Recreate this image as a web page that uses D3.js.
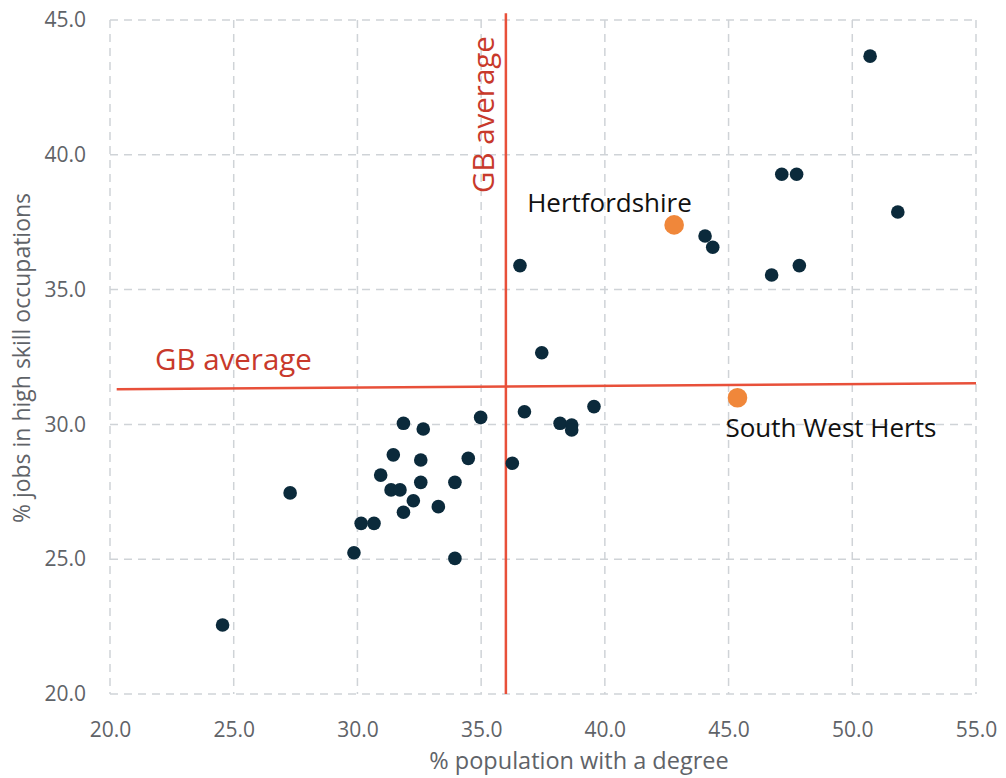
<!DOCTYPE html>
<html>
<head>
<meta charset="utf-8">
<script src="https://cdn.jsdelivr.net/npm/d3@7"></script>
<style>
  html, body { margin: 0; padding: 0; background: #ffffff; }
  svg { display: block; font-family: "Open Sans", "Noto Sans", sans-serif; }
</style>
</head>
<body>
<svg id="chart" width="1006" height="778"></svg>
<script>
// ---- data ----
const xTicks = [20, 25, 30, 35, 40, 45, 50, 55];
const yTicks = [20, 25, 30, 35, 40, 45];
const degreePct = [24.55, 27.28, 29.86, 30.15, 30.67, 30.94, 31.36, 31.72, 31.45, 31.86, 31.86,
  32.26, 32.56, 32.56, 32.66, 33.27, 33.94, 33.94, 34.48, 34.98, 36.26, 36.57, 36.75, 37.45,
  38.19, 38.66, 38.66, 39.56, 44.05, 44.36, 46.74, 47.15, 47.75, 47.86, 50.72, 51.84];
const highSkillPct = [22.56, 27.46, 25.24, 26.33, 26.33, 28.12, 27.57, 27.57, 28.87, 30.04, 26.74,
  27.17, 28.68, 27.85, 29.83, 26.95, 27.85, 25.03, 28.74, 30.26, 28.56, 35.89, 30.47, 32.66,
  30.04, 29.98, 29.79, 30.66, 36.99, 36.57, 35.54, 39.28, 39.28, 35.89, 43.66, 37.88];
const highlightNames = ["Hertfordshire", "South West Herts"];
const highlightDegree = [42.80, 45.36];
const highlightSkill = [37.40, 30.99];
const gbDegreeAvg = 36.0;
const gbLineY = [31.30, 31.53];   // drawn reference line is slightly tilted
const gbLineX = [20.27, 55];

// ---- layout ----
const svg = d3.select("#chart");
const x = d3.scaleLinear().domain([20, 55]).range([110, 976]);
const y = d3.scaleLinear().domain([20, 45]).range([694, 20]);

const gridColor = "#cfd3d7";
const tickColor = "#5f6368";

// grid
const grid = svg.append("g");
grid.selectAll("line.v").data(xTicks).enter().append("line")
  .attr("x1", d => x(d)).attr("x2", d => x(d))
  .attr("y1", y(45)).attr("y2", y(20))
  .attr("stroke", gridColor).attr("stroke-width", 1.5).attr("stroke-dasharray", "8,6");
grid.selectAll("line.h").data(yTicks).enter().append("line")
  .attr("x1", x(20)).attr("x2", x(55))
  .attr("y1", d => y(d)).attr("y2", d => y(d))
  .attr("stroke", gridColor).attr("stroke-width", 1.5).attr("stroke-dasharray", "8,6");

// axes (labels only)
const xAxis = d3.axisBottom(x).tickValues(xTicks).tickFormat(d3.format(".1f")).tickSize(0).tickPadding(0);
const gx = svg.append("g").attr("transform", `translate(0, ${y(20) + 28})`).call(xAxis);
gx.select(".domain").remove();
gx.selectAll("text").attr("fill", tickColor).attr("font-size", 21).attr("dy", "0.71em")
  .attr("font-family", "'Open Sans', sans-serif");

const yAxis = d3.axisLeft(y).tickValues(yTicks).tickFormat(d3.format(".1f")).tickSize(0).tickPadding(0);
const gy = svg.append("g").attr("transform", `translate(86, 0)`).call(yAxis);
gy.select(".domain").remove();
gy.selectAll("text").attr("fill", tickColor).attr("font-size", 21)
  .attr("font-family", "'Open Sans', sans-serif");

// axis titles
svg.append("text").attr("x", 579).attr("y", 769).attr("text-anchor", "middle")
  .attr("fill", tickColor).attr("font-size", 23.5).text("% population with a degree");
svg.append("text").attr("transform", "translate(30, 358) rotate(-90)").attr("text-anchor", "middle")
  .attr("fill", tickColor).attr("font-size", 23).text("% jobs in high skill occupations");

// GB average lines
const red = "#e8503a";
svg.append("line")
  .attr("x1", x(gbLineX[0])).attr("y1", y(gbLineY[0]))
  .attr("x2", x(gbLineX[1])).attr("y2", y(gbLineY[1]))
  .attr("stroke", red).attr("stroke-width", 2.5);
svg.append("line")
  .attr("x1", x(gbDegreeAvg)).attr("y1", y(45.25))
  .attr("x2", x(gbDegreeAvg)).attr("y2", y(20))
  .attr("stroke", red).attr("stroke-width", 2.5);

const labelRed = "#c8392b";
svg.append("text").attr("x", 155).attr("y", 370).attr("fill", labelRed)
  .attr("font-size", 29.5).text("GB average");
svg.append("text").attr("transform", `translate(${x(gbDegreeAvg) - 12}, 193) rotate(-90)`)
  .attr("fill", labelRed).attr("font-size", 29.5).text("GB average");

// points
const pts = degreePct.map((d, i) => ({ x: d, y: highSkillPct[i] }));
svg.append("g").selectAll("circle").data(pts).enter().append("circle")
  .attr("cx", d => x(d.x)).attr("cy", d => y(d.y)).attr("r", 6.8)
  .attr("fill", "#0b2a3b");

const hl = highlightNames.map((n, i) => ({ name: n, x: highlightDegree[i], y: highlightSkill[i] }));
svg.append("g").selectAll("circle").data(hl).enter().append("circle")
  .attr("cx", d => x(d.x)).attr("cy", d => y(d.y)).attr("r", 9.8)
  .attr("fill", "#f0873a");

const labelOffsets = [[-147, -13], [-12, 39]];
svg.append("g").selectAll("text").data(hl).enter().append("text")
  .attr("x", (d, i) => x(d.x) + labelOffsets[i][0])
  .attr("y", (d, i) => y(d.y) + labelOffsets[i][1])
  .attr("fill", "#111111").attr("font-size", 26)
  .text(d => d.name);
</script>
</body>
</html>
